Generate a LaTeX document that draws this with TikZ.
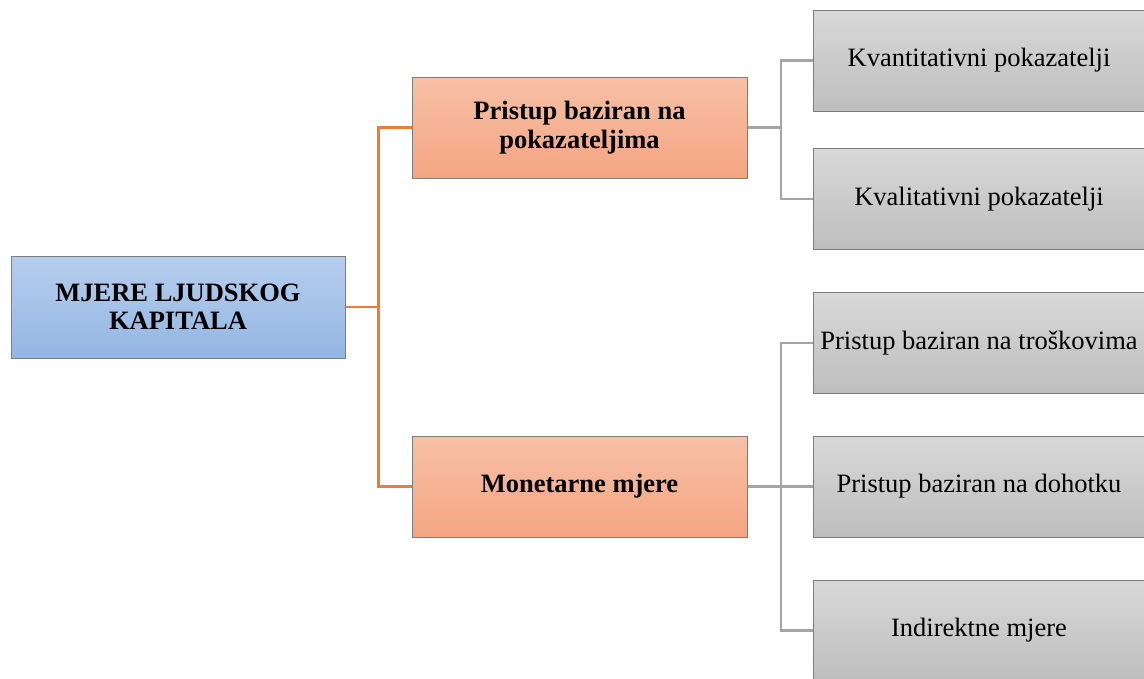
\documentclass[tikz,border=0pt]{standalone}
\usepackage{fontspec}
\setmainfont{Liberation Serif}
\definecolor{bluetop}{RGB}{183,206,237}
\definecolor{bluebot}{RGB}{146,182,227}
\definecolor{ortop}{RGB}{247,192,166}
\definecolor{orbot}{RGB}{244,165,130}
\definecolor{grtop}{RGB}{216,216,216}
\definecolor{grbot}{RGB}{190,190,190}
\definecolor{boxedge}{RGB}{125,125,125}
\definecolor{orline}{RGB}{237,125,49}
\definecolor{grline}{RGB}{165,165,165}
\tikzset{
  basebox/.style={draw=boxedge, line width=1pt, align=center, inner sep=0pt,
    font=\fontsize{26.5}{29}\selectfont},
  rootbox/.style={basebox, top color=bluetop, bottom color=bluebot,
    minimum width=334pt, minimum height=102pt, font=\fontsize{26.5}{28}\selectfont\bfseries},
  midbox/.style={basebox, top color=ortop, bottom color=orbot,
    minimum width=335pt, minimum height=101pt, font=\fontsize{26.5}{29}\selectfont\bfseries},
  leafbox/.style={basebox, top color=grtop, bottom color=grbot,
    minimum width=332pt, minimum height=101pt},
  oline/.style={draw=orline, line width=2.2pt},
  gline/.style={draw=grline, line width=2.2pt},
}
\begin{document}
\begin{tikzpicture}[x=1pt, y=-1pt]
\useasboundingbox (0,0) rectangle (1144,678);
\node[rootbox] (root) at (178,307) {MJERE LJUDSKOG\\KAPITALA};
\node[midbox] (m1) at (579.5,127.5) {Pristup baziran na\\pokazateljima};
\node[midbox] (m2) at (579.5,486.5) {Monetarne mjere};
\node[leafbox] (l1) at (979,60.5) {Kvantitativni pokazatelji};
\node[leafbox] (l2) at (979,199) {Kvalitativni pokazatelji};
\node[leafbox] (l3) at (979,343) {Pristup baziran na troškovima};
\node[leafbox] (l4) at (979,486.5) {Pristup baziran na dohotku};
\node[leafbox] (l5) at (979,630.5) {Indirektne mjere};
\coordinate (j1) at (378.5,307);
\coordinate (j2) at (781,127.5);
\coordinate (j3) at (781,486.5);
\draw[oline] (root.east) -- (j1);
\draw[oline] (m1.west) -| (j1) |- (m2.west);
\draw[gline] (m1.east) -- (j2);
\draw[gline] (l1.west) -| (j2) |- (l2.west);
\draw[gline] (m2.east) -- (j3);
\draw[gline] (l3.west) -| (j3) |- (l5.west);
\draw[gline] (j3) -- (l4.west);
\end{tikzpicture}
\end{document}
